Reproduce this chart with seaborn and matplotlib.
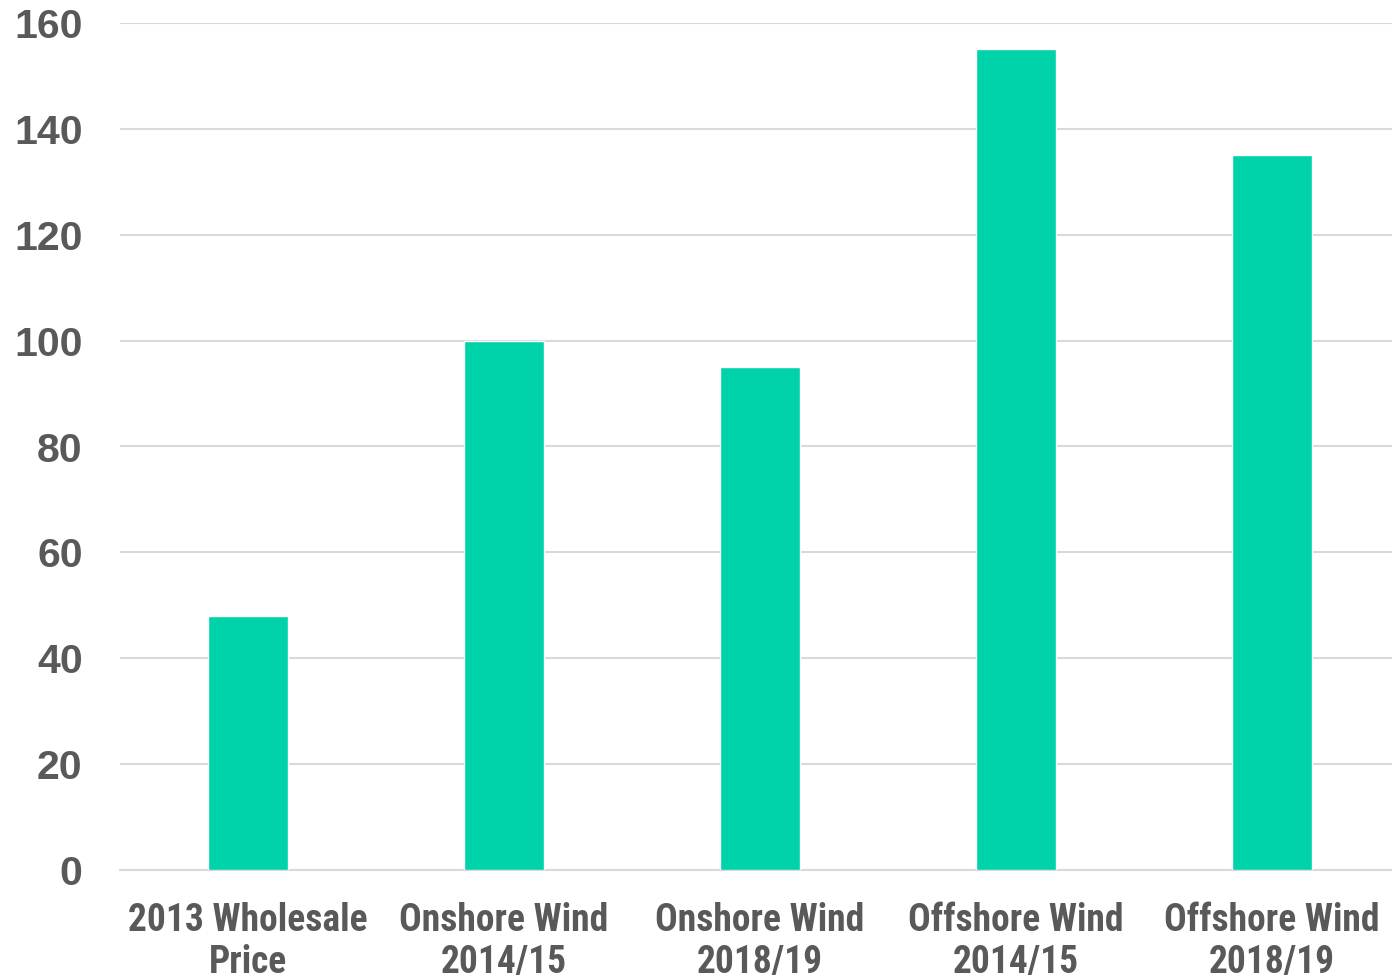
import matplotlib
matplotlib.use("Agg")
import matplotlib.pyplot as plt
import seaborn as sns
import pandas as pd

# data
categories = ["2013 Wholesale\nPrice", "Onshore Wind\n2014/15", "Onshore Wind\n2018/19",
              "Offshore Wind\n2014/15", "Offshore Wind\n2018/19"]
values = [48, 100, 95, 155, 135]
y_ticks = [0, 20, 40, 60, 80, 100, 120, 140, 160]

bar_color = "#00D2AA"
text_color = "#595959"
grid_color = "#D9D9D9"

sns.set_theme(style="white")
plt.rcParams['font.family'] = ['Liberation Sans', 'DejaVu Sans']

df = pd.DataFrame({"category": categories, "value": values})

fig = plt.figure(figsize=(13.92, 9.8), dpi=100)
# plot area runs a little past the right edge, as in the reference
ax = fig.add_axes([120 / 1392, 1 - 870 / 980, 1280 / 1392, (870 - 23) / 980])

sns.barplot(data=df, x="category", y="value", color=bar_color, width=0.31,
            saturation=1, ax=ax, zorder=3)

ax.set_ylim(0, 160)
ax.set_xlim(-0.5, 4.5)
ax.set_yticks(y_ticks)
ax.set_yticklabels([str(t) for t in y_ticks], fontsize=29.5, fontweight='bold',
                   color=text_color)
ax.set_xticks(range(len(categories)))
ax.set_xticklabels(categories, fontsize=27, fontweight='bold', color=text_color,
                   family=['Roboto Condensed', 'Archivo Narrow', 'Liberation Sans'],
                   linespacing=1.18)
ax.tick_params(axis='y', length=0, pad=27)
ax.tick_params(axis='x', length=0, pad=23)
ax.set_xlabel("")
ax.set_ylabel("")

ax.yaxis.grid(True, color=grid_color, linewidth=1.5, zorder=0)
ax.set_axisbelow(True)
for side in ["top", "right", "left"]:
    ax.spines[side].set_visible(False)
ax.spines["bottom"].set_color(grid_color)
ax.spines["bottom"].set_linewidth(1.5)

fig.savefig("out.png", dpi=100)
